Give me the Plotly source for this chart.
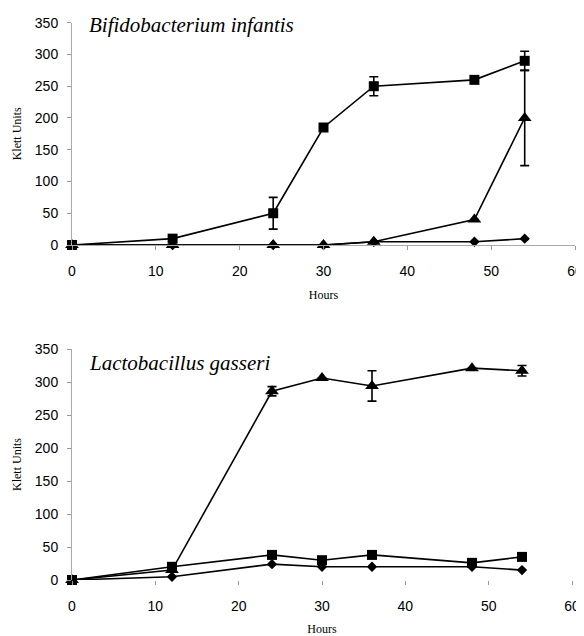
import plotly.graph_objects as go

hours = [0, 12, 24, 30, 36, 48, 54]

# Bifidobacterium infantis
bi_square = [0, 10, 50, 185, 250, 260, 290]
bi_square_err = [0, 0, 25, 0, 15, 0, 15]
bi_triangle = [0, 0, 0, 0, 5, 40, 200]
bi_triangle_err = [0, 0, 0, 0, 0, 0, 75]
bi_diamond = [0, 0, 0, 0, 5, 5, 10]

# Lactobacillus gasseri
lg_triangle = [0, 15, 286, 306, 294, 321, 317]
lg_triangle_err = [0, 0, 7, 0, 23, 0, 8]
lg_square = [0, 20, 38, 30, 38, 26, 35]
lg_diamond = [0, 5, 24, 20, 20, 20, 15]

titles = ["Bifidobacterium infantis", "Lactobacillus gasseri"]
x_ticks = [0, 10, 20, 30, 40, 50, 60]
y_ticks = [0, 50, 100, 150, 200, 250, 300, 350]

fig = go.Figure()


def add(x, y, symbol, size, xa, ya, err=None):
    tr = dict(x=x, y=y, mode="lines+markers", xaxis=xa, yaxis=ya,
              line=dict(color="black", width=1.6),
              marker=dict(symbol=symbol, size=size, color="black"),
              cliponaxis=False, showlegend=False)
    if err is not None:
        tr["error_y"] = dict(type="data", array=err, visible=True,
                             color="black", thickness=1.6, width=4.5)
    fig.add_trace(go.Scatter(**tr))


add(hours, bi_diamond, "diamond", 8, "x", "y")
add(hours, bi_triangle, "triangle-up", 12, "x", "y", bi_triangle_err)
add(hours, bi_square, "square", 10, "x", "y", bi_square_err)

add(hours, lg_diamond, "diamond", 8, "x2", "y2")
add(hours, lg_square, "square", 10, "x2", "y2")
add(hours, lg_triangle, "triangle-up", 12, "x2", "y2", lg_triangle_err)

# page has an 8px body margin; figure sized to reach the window edges
OFF = 8
W, H = 584 - OFF, 636 - OFF


def px(v):
    return (v - OFF) / W


def py(v):
    return 1 - (v - OFF) / H


xdom = [px(72), px(575)]
xdom2 = [px(72), px(572)]
ydom1 = [py(245), py(22.7)]
ydom2 = [py(580), py(349)]

tickfont = dict(family="Liberation Sans, Arial, sans-serif", size=14, color="black")
titlefont = dict(family="Liberation Serif, Times New Roman, serif", size=12, color="black")

common_x = dict(range=[0, 60], tickvals=x_ticks, ticks="outside", ticklen=4,
                tickcolor="#999999", tickfont=tickfont, showgrid=False,
                zeroline=False, automargin=False, ticklabelstandoff=9,
                ticklabeloverflow="allow",
                title=dict(text="Hours", font=titlefont, standoff=12))
common_y = dict(range=[0, 350], tickvals=y_ticks, ticks="outside", ticklen=4,
                tickcolor="#999999", tickfont=tickfont, showgrid=False,
                zeroline=False, showline=True, linecolor="#aaaaaa", linewidth=1,
                automargin=False, ticklabelstandoff=6,
                title=dict(text="Klett Units", font=titlefont, standoff=10))

fig.update_layout(
    width=W, height=H,
    margin=dict(l=0, r=0, t=0, b=0),
    paper_bgcolor="white", plot_bgcolor="white",
    xaxis=dict(domain=xdom, anchor="y", showline=True, linecolor="#aaaaaa",
               linewidth=1, **common_x),
    yaxis=dict(domain=ydom1, anchor="x", **common_y),
    xaxis2=dict(domain=xdom2, anchor="y2", showline=False, **common_x),
    yaxis2=dict(domain=ydom2, anchor="x2", **common_y),
)

titlefont_big = dict(family="Liberation Serif, Times New Roman, serif", size=21, color="black")
fig.add_annotation(text="<i>" + titles[0] + "</i>", x=px(87), y=py(25),
                   xref="paper", yref="paper", xanchor="left", yanchor="middle",
                   showarrow=False, font=titlefont_big)
fig.add_annotation(text="<i>" + titles[1] + "</i>", x=px(87), y=py(363),
                   xref="paper", yref="paper", xanchor="left", yanchor="middle",
                   showarrow=False, font=titlefont_big)

fig.write_html("out.html")
